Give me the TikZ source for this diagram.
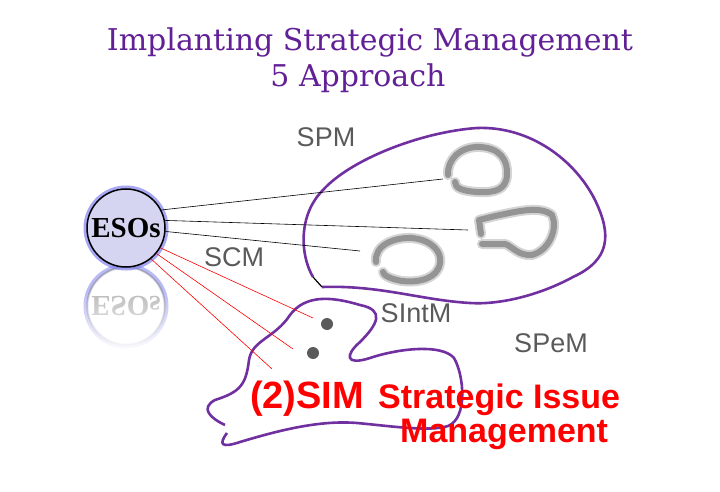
\documentclass[tikz,border=0pt]{standalone}
\usepackage{fontspec}
\setsansfont{Liberation Sans}
\newfontfamily\timesfont{Liberation Serif}
\newfontfamily\titlefont{DejaVu Serif}
\usetikzlibrary{fadings}
\definecolor{titlepurple}{RGB}{98,32,150}
\definecolor{blobpurple}{RGB}{112,48,160}
\definecolor{labelgray}{RGB}{90,90,90}
\definecolor{loopgray}{RGB}{148,148,148}
\definecolor{esofill}{RGB}{213,213,242}
\definecolor{esoglow}{RGB}{130,130,240}
\tikzset{
	title/.style = {text = titlepurple, align = center, font = \titlefont\fontsize{30}{34}\selectfont},
	zone/.style = {text = labelgray, font = \sffamily\fontsize{27}{30}\selectfont},
	blob/.style = {draw = blobpurple, line width = 2.6pt},
	issue/.style = {draw = loopgray, line width = 6pt, line cap = round, line join = round},
	issueblur/.style = {draw = loopgray!40, line width = 10pt, line cap = round, line join = round},
	esocircle/.style = {circle, draw = black, line width = 1.5pt, fill = esofill, minimum size = 78pt, inner sep = 0pt, font = \timesfont\bfseries\fontsize{29}{30}\selectfont},
	tie/.style = {draw = black, line width = 0.6pt},
	redtie/.style = {draw = red, line width = 0.6pt},
	dotmark/.style = {circle, fill = labelgray, minimum size = 12pt, inner sep = 0pt},
	simtext/.style = {text = red, font = \sffamily\bfseries\fontsize{34}{36}\selectfont, inner sep = 0pt}
}
\begin{document}
\begin{tikzpicture}[x = 1pt, y = -1pt]
		\useasboundingbox (0, 0) rectangle (720, 492);

		\node[title] (title) at (370, 42) {Implanting Strategic Management};
		\node[title] (subtitle) at (358, 78) {5 Approach};

		\draw[blob] (313, 277) .. controls (300, 255) and (298, 215) .. (323, 190)
			.. controls (350, 160) and (420, 132) .. (477, 128)
			.. controls (530, 126) and (575, 160) .. (595, 200)
			.. controls (612, 235) and (610, 260) .. (573, 277)
			.. controls (540, 295) and (500, 305) .. (470, 303)
			.. controls (420, 300) and (380, 285) .. (322, 287);
		\draw[line width = 1.2pt] (313, 277) -- (322, 287);

		\draw[blob] (227, 433) .. controls (218, 445) and (222, 448) .. (240, 442)
			.. controls (280, 430) and (320, 420) .. (357, 423)
			.. controls (390, 426) and (430, 432) .. (448, 426)
			.. controls (468, 418) and (464, 375) .. (454, 358)
			.. controls (442, 344) and (400, 348) .. (370, 358)
			.. controls (345, 366) and (345, 355) .. (360, 342)
			.. controls (378, 324) and (385, 310) .. (360, 305)
			.. controls (330, 296) and (305, 295) .. (290, 315)
			.. controls (275, 338) and (252, 340) .. (249, 360)
			.. controls (246, 385) and (240, 392) .. (215, 400)
			.. controls (200, 408) and (210, 418) .. (225, 425);

		\foreach \a in {issueblur, issue} {
			\draw[\a] (448, 175) .. controls (447, 160) and (460, 146) .. (480, 147)
				.. controls (500, 148) and (508, 160) .. (507, 175)
				.. controls (506, 190) and (495, 193) .. (477, 192)
				.. controls (462, 191) and (455, 188) .. (455, 182);
			\draw[\a] (481, 234) -- (479, 220) -- (495, 216)
				.. controls (515, 212) and (540, 205) .. (552, 215)
				.. controls (558, 228) and (550, 250) .. (532, 255)
				.. controls (518, 256) and (512, 246) .. (505, 244) -- (482, 244);
			\draw[\a] (376, 262) .. controls (374, 245) and (395, 237) .. (412, 238)
				.. controls (432, 240) and (442, 252) .. (440, 263)
				.. controls (438, 278) and (420, 283) .. (402, 281)
				.. controls (390, 279) and (383, 275) .. (383, 272);
		}

		\coordinate (loopA) at (443, 179);
		\coordinate (loopB) at (468, 230);
		\coordinate (loopC) at (360, 251);

		\node[dotmark] (dotA) at (327, 324) {};
		\node[dotmark] (dotB) at (313, 353) {};
		\coordinate (endA) at (313, 318);
		\coordinate (endB) at (293, 349);
		\coordinate (endC) at (272, 369);

		\begin{scope}[opacity = 0.55]
			\begin{scope}[shift = {(126, 306)}, yscale = -1, transform shape]
				\draw[esoglow, line width = 5pt] (0, 0) circle (40);
				\node[esocircle, draw = gray, fill = white, text = gray] (mirror) at (0, 0) {ESOs};
			\end{scope}
		\end{scope}
		\fill[white, path fading = north] (80, 290) rectangle (175, 352);

		\draw[esoglow, line width = 5pt, opacity = 0.7] (126, 228) circle (40);
		\node[esocircle] (esos) at (126, 228) {ESOs};

		\draw[tie] (esos.27) -- (loopA);
		\draw[tie] (esos.11) -- (loopB);
		\draw[tie] (esos.-5) -- (loopC);
		\draw[redtie] (esos.-30) -- (endA);
		\draw[redtie] (esos.-40) -- (endB);
		\draw[redtie] (esos.-51) -- (endC);

		\node[zone] (spm) at (326, 137) {SPM};
		\node[zone] (scm) at (234, 257) {SCM};
		\node[zone] (sintm) at (416, 313) {SIntM};
		\node[zone] (spem) at (551, 343) {SPeM};

		\node[simtext, anchor = base west, font = \sffamily\bfseries\fontsize{38}{40}\selectfont] (sim) at (250, 408) {(2)SIM};
		\node[simtext, anchor = base west] (issueA) at (378, 408) {Strategic Issue};
		\node[simtext, anchor = base west] (issueB) at (400, 442) {Management};
	\end{tikzpicture}
\end{document}
